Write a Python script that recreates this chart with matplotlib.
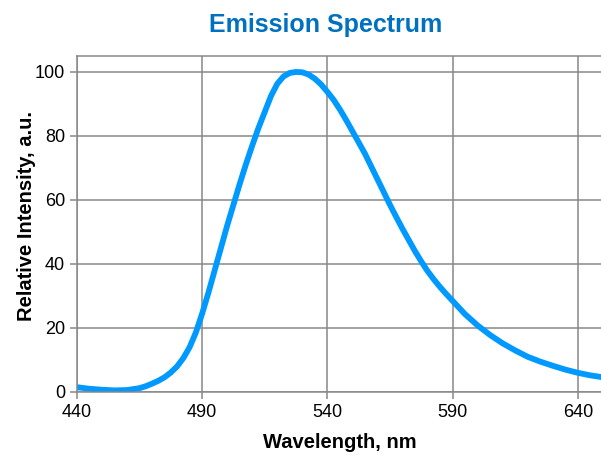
import matplotlib
matplotlib.use("Agg")
import matplotlib.pyplot as plt
import numpy as np

# spectrum (nm, relative intensity)
wavelength = [440, 445, 450, 455, 460, 465, 467.5, 470, 472.5, 475, 477.5, 480,
              482.5, 485, 487.5, 490, 492.5, 495, 497.5, 500, 502.5, 505, 507.5,
              510, 512.5, 515, 517.5, 520, 522.5, 525, 527.5, 530, 532.5, 535,
              537.5, 540, 542.5, 545, 547.5, 550, 552.5, 555, 557.5, 560, 562.5,
              565, 567.5, 570, 572.5, 575, 577.5, 580, 582.5, 585, 587.5, 590,
              595, 600, 605, 610, 615, 620, 625, 630, 635, 640, 645, 650]
intensity = [1.5, 1.0, 0.7, 0.5, 0.6, 1.2, 1.8, 2.6, 3.5, 4.6, 6.1, 8.0,
             10.6, 14.0, 18.6, 24.5, 31.0, 38.0, 45.0, 52.0, 58.5, 65.0, 71.2,
             77.0, 82.5, 87.5, 92.5, 96.3, 98.6, 99.7, 100.0, 99.9, 99.2, 97.9,
             96.1, 93.8, 91.3, 88.3, 85.0, 81.5, 78.0, 74.5, 70.5, 66.5, 62.5,
             58.5, 54.7, 51.0, 47.5, 44.0, 40.8, 37.8, 35.2, 32.8, 30.6, 28.5,
             24.3, 20.8, 17.8, 15.2, 13.0, 11.0, 9.5, 8.2, 7.0, 6.0, 5.2, 4.6]

x_ticks = [440, 490, 540, 590, 640]
y_ticks = [0, 20, 40, 60, 80, 100]

plt.rcParams['font.family'] = ['Liberation Sans', 'DejaVu Sans']

fig = plt.figure(figsize=(6.01, 4.61), dpi=100)
ax = fig.add_axes([0.128, 0.1497, 0.875, 0.7289])

ax.plot(wavelength, intensity, color='#0099FF', linewidth=4.2,
        solid_joinstyle='round', solid_capstyle='butt')

ax.set_xlim(440, 650)
ax.set_ylim(0, 105)
ax.set_xticks(x_ticks)
ax.set_yticks(y_ticks)
ax.grid(True, color='#888888', linewidth=1.1)
ax.set_axisbelow(True)
for side in ['left', 'top', 'bottom', 'right']:
    ax.spines[side].set_color('#888888')
    ax.spines[side].set_linewidth(1.1)
ax.tick_params(direction='out', length=5, width=1.1, color='#888888',
               labelsize=13, labelcolor='black')

ax.set_xlabel('Wavelength, nm', fontsize=14.5, fontweight='bold', labelpad=8.5)
ax.set_ylabel('Relative Intensity, a.u.', fontsize=14.5, fontweight='bold')
ax.yaxis.set_label_coords(-0.078, 0.525)
fig.suptitle('Emission Spectrum', fontsize=18, fontweight='bold', color='#0070C0',
             x=0.541, y=0.972)

fig.savefig('out.png', dpi=100)
